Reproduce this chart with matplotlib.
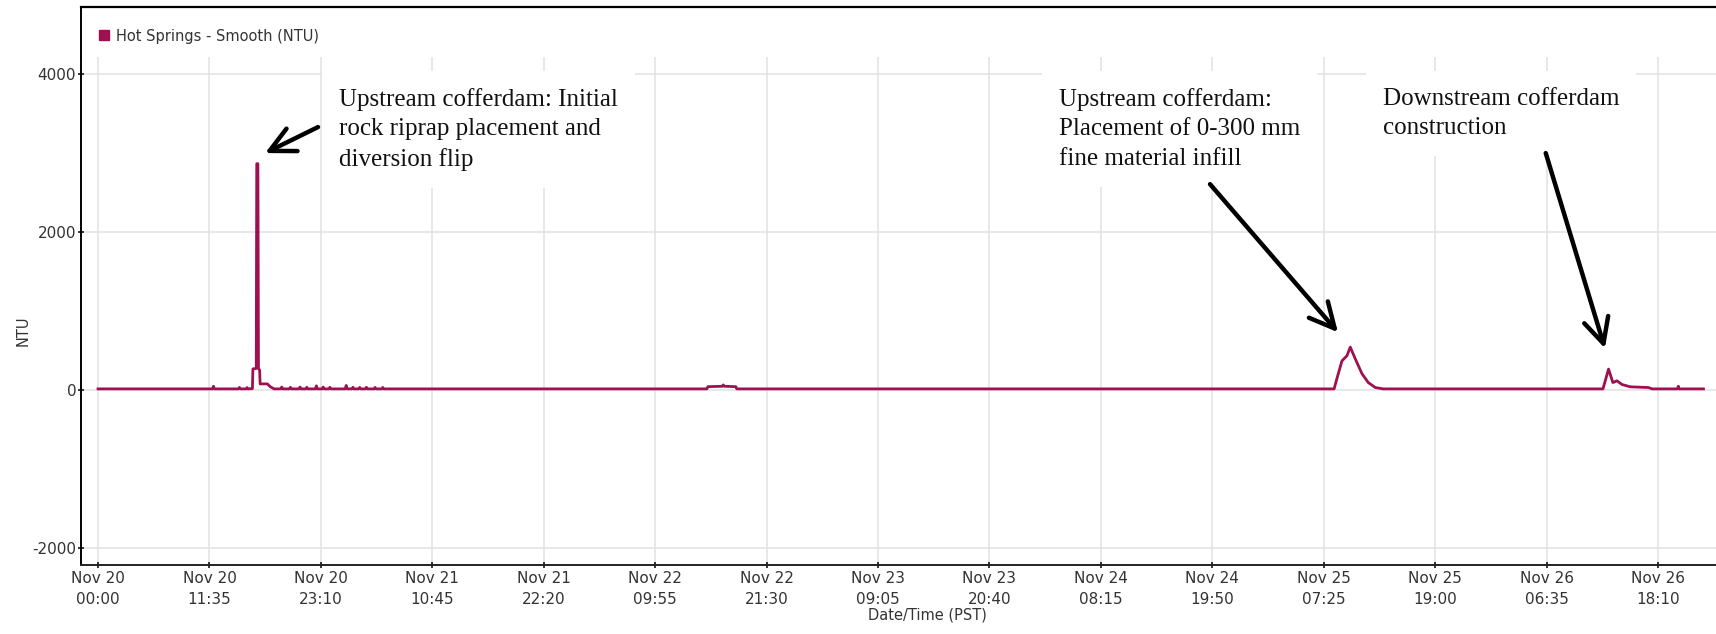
import matplotlib
matplotlib.use("Agg")
import matplotlib.pyplot as plt
import matplotlib.dates as mdates
from matplotlib.lines import Line2D
import pandas as pd

plt.rcParams["axes.unicode_minus"] = False

# turbidity record, hours after Nov 20 00:00 (PST)
hours = [0.0, 11.9, 12.0, 12.1, 14.6, 14.7, 14.8, 15.4, 15.5, 15.6,
         16.05, 16.1, 16.45, 16.5, 16.62, 16.68, 16.8, 16.85, 17.6, 17.9,
         18.3, 19.0, 19.1, 19.2, 19.9, 20.0, 20.1, 20.9, 21.0, 21.1,
         21.6, 21.7, 21.8, 22.6, 22.7, 22.8, 23.3, 23.4, 23.5, 24.0,
         24.1, 24.2, 25.7, 25.8, 25.9, 26.4, 26.5, 26.6, 27.1, 27.2,
         27.3, 27.8, 27.9, 28.0, 28.7, 28.8, 28.9, 29.5, 29.6, 29.7,
         63.3, 63.4, 64.9, 65.0, 65.1, 66.3, 66.4,
         128.5, 128.87, 129.32, 129.83, 130.18, 130.7, 131.4, 132.05, 132.78, 133.6,
         156.45, 157.03, 157.48, 157.9, 158.43, 159.3, 161.17, 161.55,
         164.2, 164.28, 164.36, 166.9]
ntu = [12, 12, 45, 12, 12, 30, 12, 12, 28, 12,
       15, 265, 270, 2860, 2860, 270, 250, 75, 75, 40,
       12, 12, 35, 12, 12, 32, 12, 12, 35, 12,
       12, 32, 12, 12, 50, 12, 12, 35, 12, 12,
       32, 12, 12, 55, 12, 12, 32, 12, 12, 30,
       12, 12, 32, 12, 12, 30, 12, 12, 30, 12,
       12, 40, 45, 62, 45, 40, 12,
       12, 177, 367, 430, 540, 392, 203, 92, 29, 12,
       12, 262, 92, 114, 67, 38, 29, 12,
       12, 45, 12, 12]

start = pd.Timestamp("2019-11-20 00:00")
times = start + pd.to_timedelta(hours, unit="h")
tick_times = pd.date_range(start, periods=15, freq="695min")
y_ticks = [-2000, 0, 2000, 4000]

# annotations: (text, text pos hours/ntu, arrow tail, arrow tip)
notes = [
    ("Upstream cofferdam: Initial\nrock riprap placement and\ndiversion flip",
     (25.07, 3820), (22.87, 3323), (17.37, 2994)),
    ("Upstream cofferdam:\nPlacement of 0-300 mm\nfine material infill",
     (99.9, 3820), (115.6, 2601), (128.9, 728)),
    ("Downstream cofferdam\nconstruction",
     (133.6, 3820), (150.5, 2994), (156.65, 525)),
]

line_color = "#9E1050"

fig = plt.figure(figsize=(17.16, 6.34), dpi=100)
W, H = 1716, 634
ax = fig.add_axes([81 / W, (H - 564.5) / H, (W - 81) / W, (564.5 - 57) / H])
ax_top = fig.add_axes([81 / W, (H - 57) / H, (W - 81) / W, 50 / H])

ax.plot(times, ntu, color=line_color, lw=2, solid_joinstyle="round")

ax.set_ylim(-2209, 4209)
ax.set_xlim(start - pd.Timedelta(hours=1.77), start + pd.Timedelta(hours=168.2))
ax.set_yticks(y_ticks)
ax.set_xticks(tick_times)
ax.xaxis.set_major_formatter(mdates.DateFormatter("%b %d\n%H:%M"))
for lab in ax.get_xticklabels():
    lab.set_linespacing(1.55)

ax.grid(True, color="#e2e2e2", lw=1.1)
ax.set_axisbelow(True)
for s in ["top", "right"]:
    ax.spines[s].set_visible(False)
ax.spines["left"].set_linewidth(1.4)
ax.spines["bottom"].set_linewidth(1.4)
ax.spines["bottom"].set_color("#222222")
ax.tick_params(direction="inout", length=5, width=1.1, labelsize=11,
               labelcolor="#333333", pad=2)
ax.tick_params(axis="y", pad=1)

ax.set_xlabel("Date/Time (PST)", fontsize=10.5, color="#333333")
ax.xaxis.label.set_va("center")
ax.xaxis.set_label_coords(0.518, -0.0995)
ax.set_ylabel("NTU", fontsize=10.5, color="#333333")
ax.yaxis.label.set_va("center")
ax.yaxis.set_label_coords(-0.0355, 0.46)

for txt, pos, tail, tip in notes:
    ax.text(start + pd.Timedelta(hours=pos[0]), pos[1], txt,
            family="Liberation Serif", fontsize=18, va="top", ha="left",
            linespacing=1.45, color="#111111", zorder=3,
            bbox=dict(facecolor="white", edgecolor="none", pad=12))
    ax.annotate("", xy=(start + pd.Timedelta(hours=tip[0]), tip[1]),
                xytext=(start + pd.Timedelta(hours=tail[0]), tail[1]),
                arrowprops=dict(arrowstyle="->,head_length=0.9,head_width=0.45",
                                lw=3.2, color="black", shrinkA=0, shrinkB=0,
                                mutation_scale=20),
                zorder=4)

# legend strip on top
ax_top.set_xticks([])
ax_top.set_yticks([])
for s in ["right", "bottom"]:
    ax_top.spines[s].set_visible(False)
ax_top.spines["top"].set_linewidth(1.6)
ax_top.spines["left"].set_linewidth(1.4)
handle = Line2D([], [], marker="s", color=line_color, ls="none", markersize=7)
ax_top.legend([handle], ["Hot Springs - Smooth (NTU)"], loc="center left",
              bbox_to_anchor=(0.006, 0.42), frameon=False, fontsize=10.5,
              handlelength=0.8, handletextpad=0.4, borderpad=0,
              labelcolor="#333333")

fig.savefig("out.png", dpi=100)
